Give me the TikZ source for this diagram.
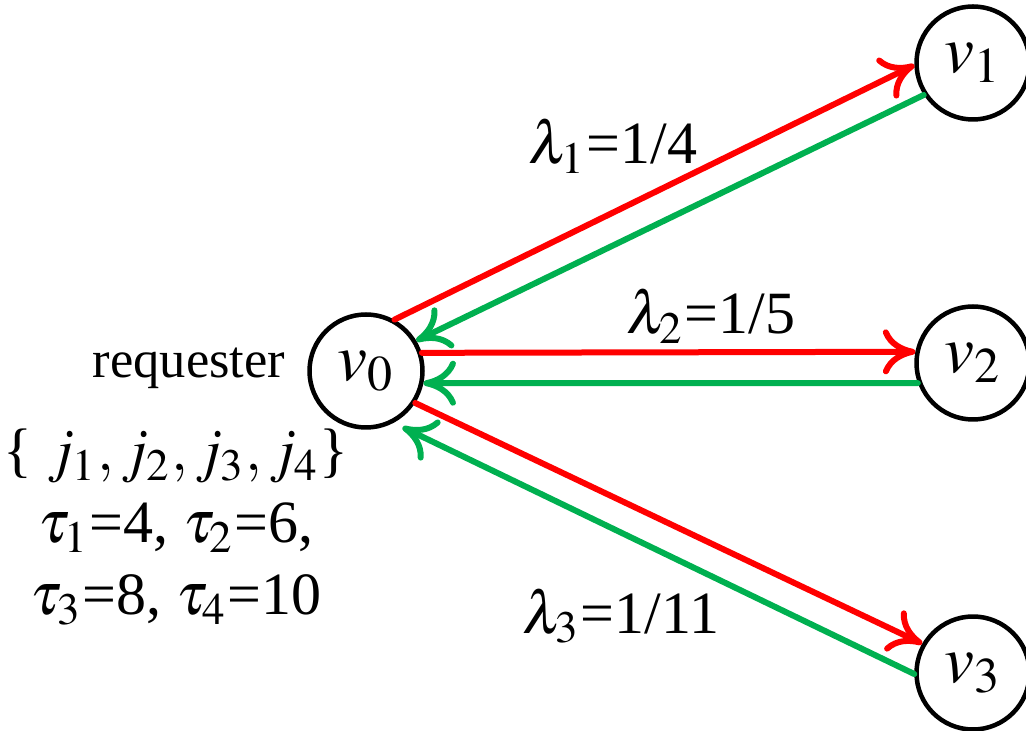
\documentclass[tikz,border=0pt]{standalone}
\usepackage{mathptmx}
\usepackage{fontspec}
\setmainfont{Liberation Serif}
\usetikzlibrary{arrows.meta}

\definecolor{fwdred}{RGB}{255,0,0}
\definecolor{backgreen}{RGB}{0,176,80}

\tikzset{
  vertex/.style={draw, circle, line width=0.9pt, minimum size=22.6pt, inner sep=0pt,
    font=\fontsize{13.5}{16}\selectfont},
  fwd/.style={draw=fwdred, line width=1.2pt, line cap=round,
    -{Computer Modern Rightarrow[length=6.5pt,width=9pt]}},
  back/.style={draw=backgreen, line width=1.2pt, line cap=round,
    -{Computer Modern Rightarrow[length=6.5pt,width=9pt]}},
  rate/.style={font=\fontsize{12}{14}\selectfont},
}

\begin{document}
\begin{tikzpicture}[line join=round, x=0.2pt, y=-0.2pt]
	\useasboundingbox (0,0) rectangle (1026,731);
	% vertices
	\node[vertex] (v0) at (366,371) {$v_0$};
	\node[vertex] (v1) at (973,63) {$v_1$};
	\node[vertex] (v2) at (973,363) {$v_2$};
	\node[vertex] (v3) at (973,673) {$v_3$};
	% requests and replies
	\draw[fwd] (v0.61) -- (v1.182);
	\draw[back] (v1.213.7) -- (v0.31.7);
	\draw[fwd] (v0.18.6) -- (v2.169.8);
	\draw[back] (v2.200.7) -- (v0.-12.3);
	\draw[fwd] (v0.-33.4) -- (v3.150.5);
	\draw[back, shorten >=2pt] (v3.181) -- (v0.-62);
	% rates
	\node[rate] (lam1) at (613,146) {$\lambda_1$=1/4};
	\node[rate] (lam2) at (711,316) {$\lambda_2$=1/5};
	\node[rate] (lam3) at (621,616) {$\lambda_3$=1/11};
	% requester and its jobs
	\node[font=\fontsize{10.5}{12}\selectfont] (req) at (189,368) {requester};
	\node[align=center, font=\fontsize{12}{14.4}\selectfont] (jobs) at (176,527)
		{\{ $j_1, j_2, j_3, j_4$\}\\ $\tau_1$=4, $\tau_2$=6,\\ $\tau_3$=8, $\tau_4$=10};
\end{tikzpicture}
\end{document}
